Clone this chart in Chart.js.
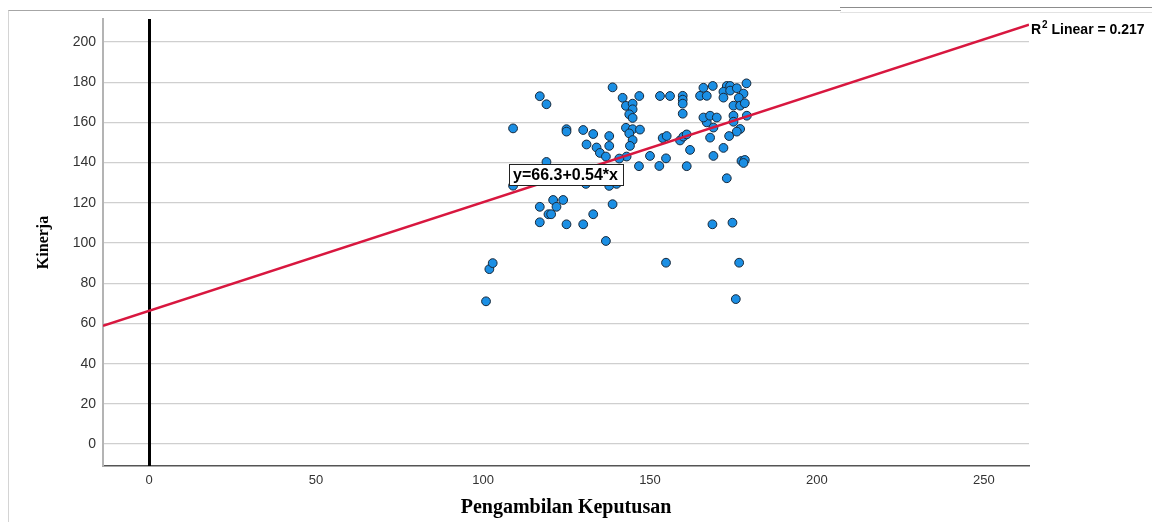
<!DOCTYPE html>
<html>
<head>
<meta charset="utf-8">
<script src="https://cdn.jsdelivr.net/npm/chart.js@4.4.1/dist/chart.umd.min.js"></script>
<style>
  html, body { margin: 0; padding: 0; background: #ffffff; }
  #wrap { position: relative; width: 1156px; height: 522px; overflow: hidden; }
  #c { position: absolute; left: 0; top: 0; }
  .edge { position: absolute; pointer-events: none; }
</style>
</head>
<body>
<div id="wrap">
  <canvas id="c" width="1156" height="522"></canvas>
  <div class="edge" style="left:8px;top:10px;width:832px;height:520px;border-top:1px solid #a6a6a6;border-left:1px solid #d4d4d4;"></div>
  <div class="edge" style="left:840px;top:7px;width:312px;border-top:1px solid #8c8c8c;"></div>
  <div class="edge" style="left:840px;top:12px;width:312px;border-top:1px solid #e2e2e2;"></div>
</div>
<script>
// Pengambilan Keputusan (x) against Kinerja (y), one entry per respondent
const pengambilan = [
  100.9, 101.9, 102.9, 109, 109, 117, 119, 119, 117, 121,
  124, 122, 119.6, 120.4, 117, 125, 130, 133, 138.8, 136.8,
  125, 125, 130, 133, 131, 134, 135, 137.8, 137.8, 136.8,
  130.8, 137.8, 140, 138.8, 141.8, 146.8, 142.8, 144.8, 144.8, 143.8,
  144.8, 142.8, 144.8, 147, 143.8, 144.8, 144, 143, 140.8, 146.7,
  150, 152.8, 153, 156, 153.8, 155, 154.8, 154.8, 159.8, 159.8,
  159.8, 159.8, 159, 160, 161, 161, 162, 165, 167, 166,
  168.8, 167, 166, 168, 170, 169, 168, 169, 168.7, 173,
  174, 172, 174, 176, 178, 172, 176.6, 175, 177, 178.4,
  175, 175, 179, 177, 176, 173.7, 172, 177.4, 178.4, 178,
  173, 174.7, 176.7, 175.7, 178.9
];
const kinerja = [
  71, 87, 90, 157, 128.5, 173, 169, 140.3, 118, 121.4,
  121.4, 118, 114.3, 114.3, 110.3, 109.3, 109.3, 114.3, 119.3, 101,
  156.6, 155.4, 156.2, 154.2, 149, 147.5, 144.8, 148.3, 153.2, 143,
  129.4, 128.4, 129.4, 177.4, 172.2, 173.1, 168.2, 169.3, 166.5, 164,
  162.2, 157.3, 156.6, 156.4, 154.5, 151.2, 148.3, 143, 142, 138.2,
  143.3, 138.3, 173.1, 173.1, 152.2, 153.2, 142.1, 90.2, 173.2, 171.3,
  169.3, 164.3, 151, 152.9, 154, 138.2, 146.3, 173.2, 173.2, 177.2,
  178.1, 160, 162.4, 163.3, 162.4, 157.4, 152.4, 143.3, 109.3, 178.1,
  178.1, 175.2, 175.8, 177, 174.3, 172.3, 172.2, 168.3, 168.3, 169.5,
  163.3, 160.3, 163.3, 156.7, 155.4, 153.2, 147.3, 140.8, 141.3, 139.8,
  132.2, 110.1, 90.2, 72.1, 179.4
];

// Axis ticks and bounds
const xTicks = [0, 50, 100, 150, 200, 250];
const yTicks = [0, 20, 40, 60, 80, 100, 120, 140, 160, 180, 200];
const xBounds = [-13.8, 263.5];
const yBounds = [-10.9, 211.4];

// Linear fit
const fitIntercept = 66.3;
const fitSlope = 0.54;
const rSquared = 0.217;
const referenceX = 0;
const equationAt = { x: 124.7, y: 134.0 };

const points = pengambilan.map((v, i) => ({ x: v, y: kinerja[i] }));
const fitLine = xBounds.map(v => ({ x: v, y: fitIntercept + fitSlope * v }));

const fixedTicks = list => scale => { scale.ticks = list.map(v => ({ value: v })); };

// Vertical reference line at x = 0 across the plot area
const referenceLine = {
  id: 'referenceLine',
  beforeDatasetsDraw(chart) {
    const { ctx, chartArea, scales } = chart;
    const px = Math.round(scales.x.getPixelForValue(referenceX)) + 0.5;
    ctx.save();
    ctx.strokeStyle = '#000000';
    ctx.lineWidth = 3;
    ctx.beginPath();
    ctx.moveTo(px, chartArea.top);
    ctx.lineTo(px, chartArea.bottom);
    ctx.stroke();
    ctx.restore();
  }
};

// Equation box on the plot and R² note at the end of the fit line
const fitLabels = {
  id: 'fitLabels',
  afterDatasetsDraw(chart) {
    const { ctx, chartArea, scales } = chart;
    ctx.save();
    // equation box
    const eq = 'y=' + fitIntercept + '+' + fitSlope + '*x';
    ctx.font = 'bold 16px "Liberation Sans", Arial, sans-serif';
    const w = ctx.measureText(eq).width;
    const cx = scales.x.getPixelForValue(equationAt.x);
    const cy = scales.y.getPixelForValue(equationAt.y);
    const bw = w + 9, bh = 21;
    const bx = Math.round(cx - bw / 2) + 0.5, by = Math.round(cy - bh / 2) + 0.5;
    ctx.fillStyle = '#ffffff';
    ctx.fillRect(bx, by, bw, bh);
    ctx.strokeStyle = '#222222';
    ctx.lineWidth = 1;
    ctx.strokeRect(bx, by, bw, bh);
    ctx.fillStyle = '#000000';
    ctx.textAlign = 'center';
    ctx.textBaseline = 'middle';
    ctx.fillText(eq, cx, cy + 1);

    // R² Linear note
    const endY = scales.y.getPixelForValue(fitIntercept + fitSlope * xBounds[1]);
    let tx = chartArea.right + 2;
    const ty = endY + 5;
    ctx.textAlign = 'left';
    ctx.font = 'bold 14px "Liberation Sans", Arial, sans-serif';
    ctx.fillText('R', tx, ty);
    tx += ctx.measureText('R').width + 1;
    ctx.font = 'bold 10px "Liberation Sans", Arial, sans-serif';
    ctx.fillText('2', tx, ty - 4);
    tx += ctx.measureText('2').width;
    ctx.font = 'bold 14px "Liberation Sans", Arial, sans-serif';
    ctx.fillText(' Linear = ' + rSquared, tx, ty);
    ctx.restore();
  }
};

new Chart(document.getElementById('c'), {
  type: 'scatter',
  data: {
    datasets: [
      {
        type: 'line',
        data: fitLine,
        borderColor: '#d8173f',
        borderWidth: 2.5,
        pointRadius: 0,
        fill: false,
        order: 0
      },
      {
        data: points,
        backgroundColor: '#1b8fe4',
        borderColor: '#17283a',
        borderWidth: 1,
        pointRadius: 4.4,
        pointStyle: 'circle',
        order: 1
      }
    ]
  },
  options: {
    responsive: false,
    animation: false,
    events: [],
    layout: { padding: { top: 19, right: 127, left: 0, bottom: 0 } },
    plugins: { legend: { display: false }, tooltip: { enabled: false } },
    scales: {
      x: {
        type: 'linear',
        min: xBounds[0],
        max: xBounds[1],
        afterBuildTicks: fixedTicks(xTicks),
        afterFit(scale) { scale.height = 56; },
        grid: { display: false, drawTicks: false },
        border: { display: true, color: '#555555', width: 1.5 },
        ticks: {
          padding: 7,
          color: '#333333',
          font: { family: '"Liberation Sans", Arial, sans-serif', size: 13 }
        },
        title: {
          display: true,
          text: 'Pengambilan Keputusan',
          color: '#000000',
          padding: { top: 0, bottom: 2 },
          font: { family: '"Liberation Serif", "Times New Roman", serif', size: 20, weight: 'bold' }
        }
      },
      y: {
        type: 'linear',
        min: yBounds[0],
        max: yBounds[1],
        afterBuildTicks: fixedTicks(yTicks),
        afterFit(scale) { scale.width = 103; },
        grid: { display: true, drawTicks: false, color: '#cfcfcf', lineWidth: 1.2 },
        border: { display: true, color: '#b4b4b4', width: 2 },
        ticks: {
          padding: 7,
          color: '#333333',
          font: { family: '"Liberation Sans", Arial, sans-serif', size: 14 }
        },
        title: {
          display: true,
          text: 'Kinerja',
          color: '#000000',
          padding: { top: 34, bottom: 0 },
          font: { family: '"Liberation Serif", "Times New Roman", serif', size: 16, weight: 'bold' }
        }
      }
    }
  },
  plugins: [referenceLine, fitLabels]
});
</script>
</body>
</html>
